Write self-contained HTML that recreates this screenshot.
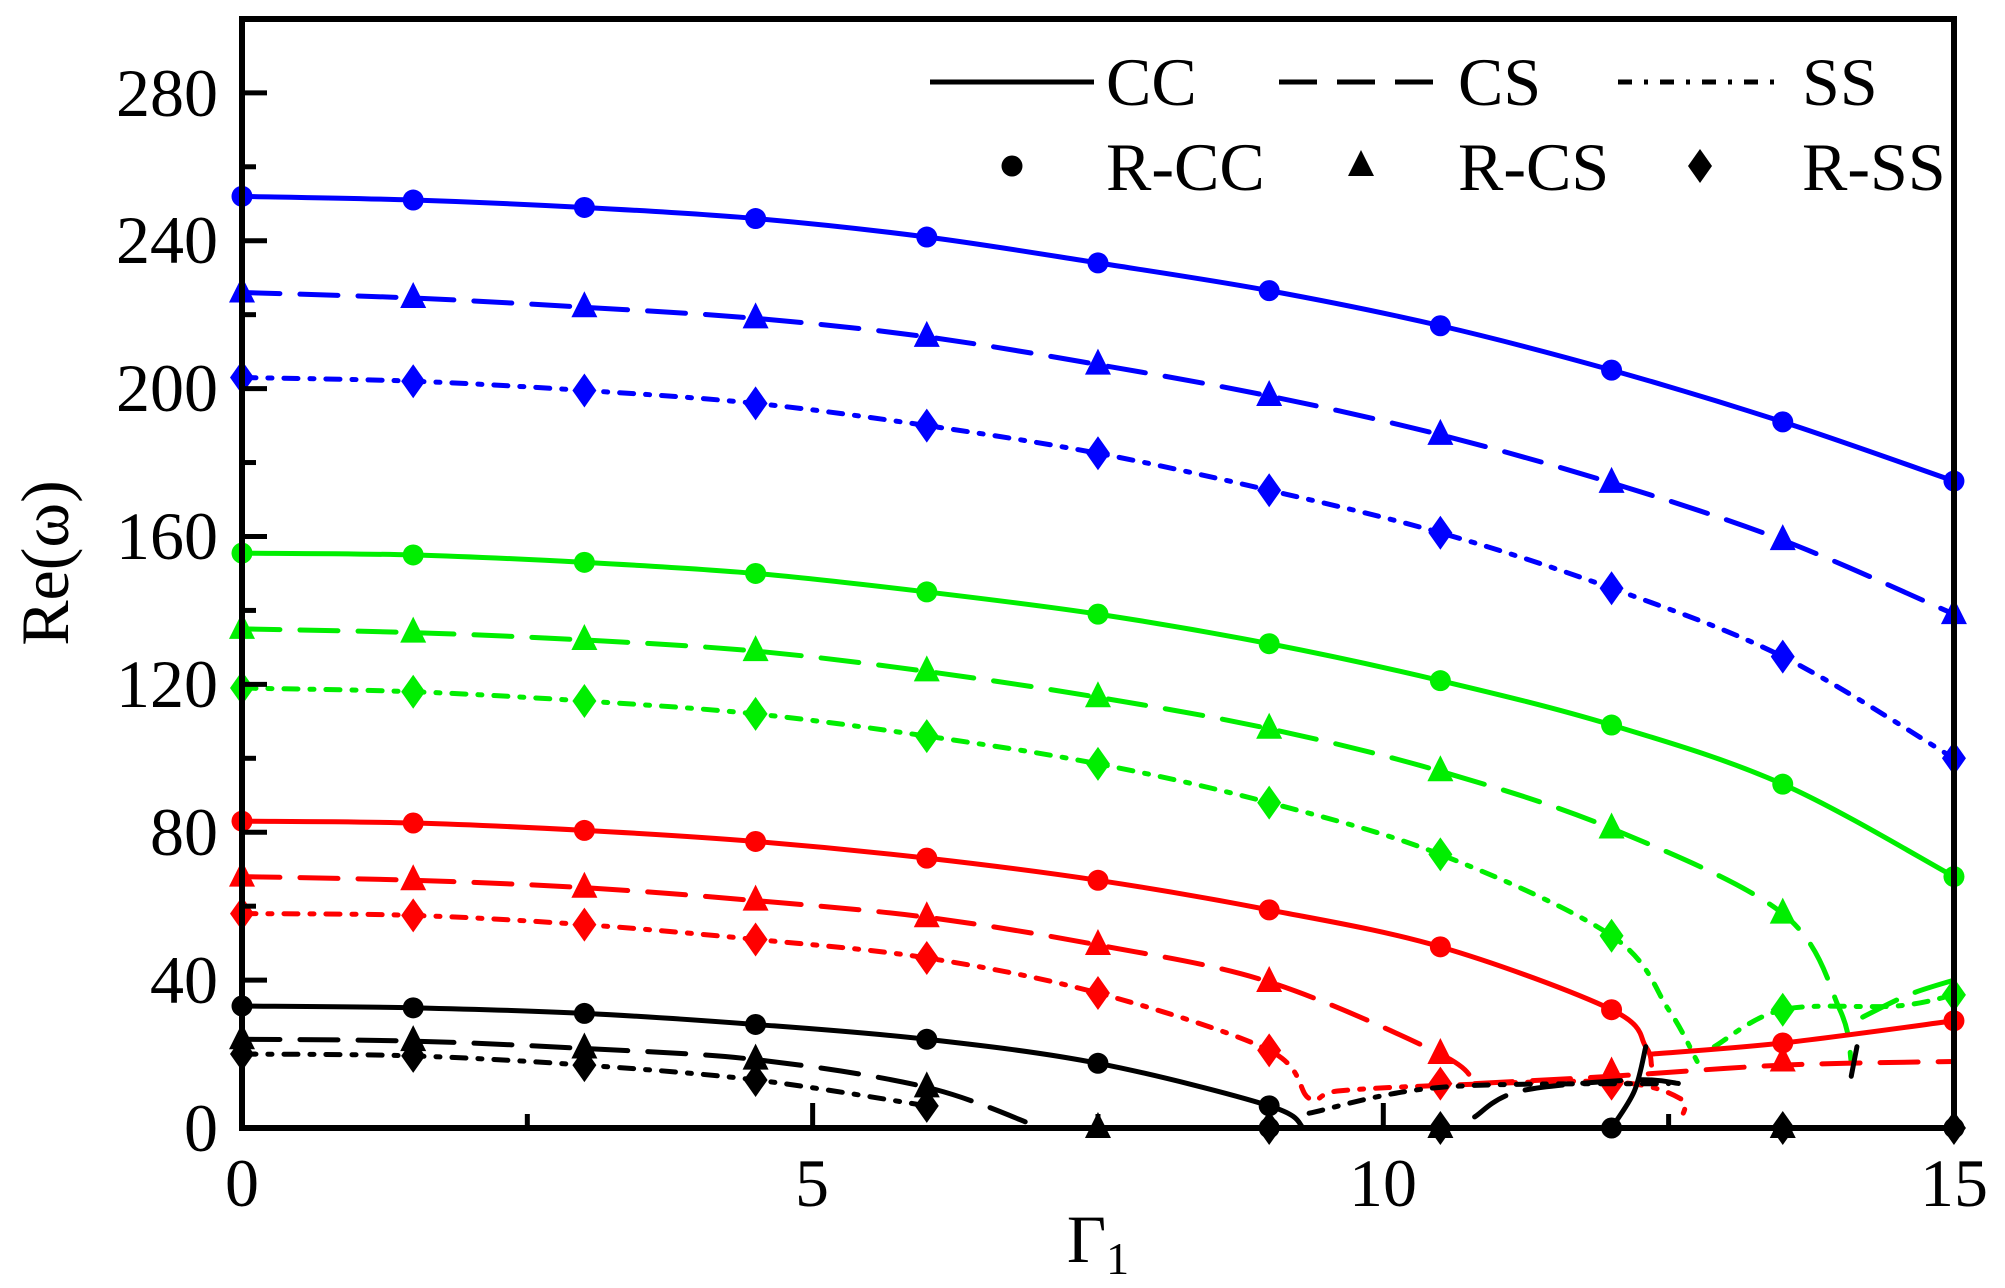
<!DOCTYPE html>
<html><head><meta charset="utf-8"><style>
html,body{margin:0;padding:0;background:#fff;}
svg text{font-family:"Liberation Serif","Times New Roman",serif;fill:#000;}
</style></head><body>
<svg id="s" width="2005" height="1283" xmlns="http://www.w3.org/2000/svg" font-family="Liberation Serif, serif">
<rect width="2005" height="1283" fill="#fff"/>
<g id="plot"></g>
<rect x="242" y="19" width="1712" height="1109" fill="none" stroke="#000" stroke-width="6"/>
<g id="ticks" stroke="#000" stroke-width="5"></g>
<g font-size="68" text-anchor="end">
<text x="218" y="1151">0</text><text x="218" y="1003">40</text><text x="218" y="855">80</text>
<text x="218" y="707">120</text><text x="218" y="559">160</text><text x="218" y="411">200</text>
<text x="218" y="263">240</text><text x="218" y="116">280</text>
</g>
<g font-size="68" text-anchor="middle">
<text x="242" y="1206">0</text><text x="812" y="1206">5</text><text x="1383" y="1206">10</text><text x="1954" y="1206">15</text>
</g>
<text x="1098" y="1262" font-size="68" text-anchor="middle">Γ<tspan font-size="46" dy="12">1</tspan></text>
<text transform="translate(68,563) rotate(-90)" font-size="68" text-anchor="middle">Re(ω)</text>
<g id="legend"></g>
</svg>
<script>
const X=v=>242+v*114.13, Y=v=>1128-v*3.697;
const NS="http://www.w3.org/2000/svg";
const plot=document.getElementById('plot');
function el(t,a,p){const e=document.createElementNS(NS,t);for(const k in a)e.setAttribute(k,a[k]);(p||plot).appendChild(e);return e;}
const dash={CC:"none",CS:"38 20",SS:"14 12 4 12"};
function path(pts){
 const P=pts.map(p=>[X(p[0]),Y(p[1])]);let d="M"+P[0][0]+","+P[0][1];
 for(let i=0;i<P.length-1;i++){const p0=P[i-1]||P[i],p1=P[i],p2=P[i+1],p3=P[i+2]||P[i+1];
  const c1=[p1[0]+(p2[0]-p0[0])/6,p1[1]+(p2[1]-p0[1])/6],c2=[p2[0]-(p3[0]-p1[0])/6,p2[1]-(p3[1]-p1[1])/6];
  d+=" C"+c1+" "+c2+" "+p2;}
 return d;}
function line(pts,c,s){el('path',{d:path(pts),fill:'none',stroke:c,'stroke-width':5,'stroke-dasharray':dash[s],'stroke-linecap':'round','stroke-linejoin':'round'});}
function mk(x,y,c,s,g){x=X(x);y=Y(y);g=g||plot;
 if(s=='CC')el('circle',{cx:x,cy:y,r:10.5,fill:c},g);
 else if(s=='CS')el('polygon',{points:`${x},${y-16} ${x-13},${y+10} ${x+13},${y+10}`,fill:c},g);
 else el('polygon',{points:`${x},${y-17} ${x-12},${y} ${x},${y+17} ${x+12},${y}`,fill:c},g);}
const xs=[0,1.5,3,4.5,6,7.5,9,10.5,12,13.5,15];
function series(c,s,vals,extra,mkvals){
 const pts=vals.map((v,i)=>[xs[i],v]);line(pts.concat(extra||[]),c,s);
 (mkvals||pts).forEach(p=>mk(p[0],p[1],c,s));}
const B="#0000ff",G="#00ee00",R="#ff0000",K="#000";
series(B,'CC',[252,251,249,246,241,234,226.5,217,205,191,175]);
series(B,'CS',[226,224.5,222,219,214,206.5,198,187.5,174.5,159,139]);
series(B,'SS',[203,202,199.5,196,190,182.5,172.5,161,146,127.5,100]);
series(G,'CC',[155.5,155,153,150,145,139,131,121,109,93,68]);
series(G,'CS',[135,134,132,129,123.5,116.5,108,96.5,81,58],[[14,32],[14.1,18]]);
line([[14.2,30],[14.6,36],[15,40]],G,'CS');
series(G,'SS',[119,118,115.5,112,106,98.5,88,74,52],[[12.5,32],[12.75,18]]);
line([[12.9,22],[13.5,32],[14.5,33],[15,36]],G,'SS');mk(13.5,32,G,'SS');mk(15,36,G,'SS');
series(R,'CC',[83,82.5,80.5,77.5,73,67,59,49,32],[[12.3,22],[12.35,17]]);
line([[12.35,20],[13.5,23],[15,29]],R,'CC');mk(13.5,23,R,'CC');mk(15,29,R,'CC');
series(R,'CS',[68,67,65,61.5,57,49.5,39.5,20],[[10.8,12]]);
line([[10.8,12],[12,14],[13.5,17],[15,18]],R,'CS');mk(12,15,R,'CS');mk(13.5,18,R,'CS');
series(R,'SS',[58,57.5,55,51,46,36.5,21],[[9.35,8],[9.6,10],[10.5,11.5],[12,12.5],[12.6,8],[12.6,2]]);
mk(10.5,12,R,'SS');mk(12,12,R,'SS');
series(K,'CC',[33,32.5,31,28,24,17.5,6],[[9.3,0]]);
line([[12,0],[12.2,10],[12.3,22]],K,'CC');mk(9,0,K,'CC');mk(12,0,K,'CC');mk(15,0,K,'CC');
series(K,'CS',[24,23.5,21.5,18.5,11],[[7,0]]);
line([[10.8,3],[11.2,10],[12.2,13],[12.6,12]],K,'CS');line([[14.1,14],[14.15,22]],K,'CS');
mk(7.5,0,K,'CS');mk(10.5,0,K,'CS');mk(13.5,0,K,'CS');
series(K,'SS',[20,19.5,17,13,6]);
line([[9.35,4],[10.5,11],[12.5,12]],K,'SS');
mk(9,0,K,'SS');mk(10.5,0,K,'SS');mk(13.5,0,K,'SS');mk(15,0,K,'SS');
const tk=document.getElementById('ticks');
for(let v=0;v<=300;v+=20){const y=Y(v),L=(v%40==0)?22:11;el('line',{x1:245,y1:y,x2:245+L,y2:y},tk);}
for(let v=0;v<=15;v+=2.5){const x=X(v),L=(v%5==0)?22:11;el('line',{x1:x,y1:1125,x2:x,y2:1125-L},tk);}
const lg=document.getElementById('legend');
const lx=[[930,1279,1618],[1106,1458,1802]];
[['CC',K],['CS',K],['SS',K]].forEach((a,i)=>{const x0=lx[0][i];
 el('line',{x1:x0,y1:82,x2:x0+164,y2:82,stroke:'#000','stroke-width':5,'stroke-dasharray':dash[a[0]]},lg);
 const t=el('text',{x:lx[1][i],y:105,'font-size':68},lg);t.textContent=a[0];
 mk(0,0,'#000',a[0],lg);lg.lastChild.setAttribute('transform',`translate(${x0+82-242},${166-1128})`);
 const t2=el('text',{x:lx[1][i],y:190,'font-size':68},lg);t2.textContent='R-'+a[0];});
</script>
</body></html>
